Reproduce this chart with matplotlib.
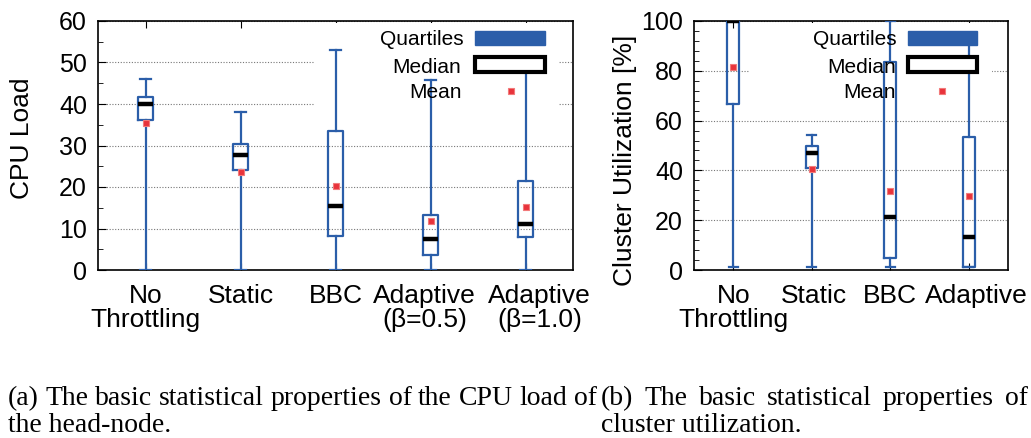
import matplotlib
matplotlib.use('Agg')
import matplotlib.pyplot as plt
import matplotlib.transforms as mtransforms
from matplotlib.patches import Rectangle
from matplotlib.ticker import MultipleLocator

plt.rcParams['font.family'] = ['Liberation Sans', 'DejaVu Sans']

# CPU load of the head-node
cpu_labels = ['No\nThrottling', 'Static', 'BBC', 'Adaptive\n(β=0.5)', 'Adaptive\n(β=1.0)']
cpu_min = [0, 0, 0, 0, 0]
cpu_q1 = [36.1, 24.1, 8.2, 3.6, 8.0]
cpu_med = [40.0, 27.6, 15.4, 7.5, 11.1]
cpu_q3 = [41.7, 30.4, 33.4, 13.3, 21.5]
cpu_max = [46.1, 38.0, 53.0, 45.8, 50.0]
cpu_mean = [35.4, 23.6, 20.3, 11.8, 15.3]

# cluster utilization [%]
util_labels = ['No\nThrottling', 'Static', 'BBC', 'Adaptive']
util_min = [1.3, 1.2, 1.3, 1.3]
util_q1 = [66.7, 41.1, 4.7, 1.3]
util_med = [100, 47.0, 21.4, 13.1]
util_q3 = [100, 49.9, 83.5, 53.4]
util_max = [100, 54.2, 100, 95]
util_mean = [81.4, 40.6, 31.9, 29.9]

BLUE = '#2b5ea9'
RED = '#e8333b'
W, H = 1031, 438

fig = plt.figure(figsize=(W / 100, H / 100), dpi=100)


def px_axes(x0, x1, ytop, ybot):
    return fig.add_axes([x0 / W, 1 - ybot / H, (x1 - x0) / W, (ybot - ytop) / H])


def draw_boxes(ax, labels, lo, q1, med, q3, hi, mean, shifts):
    stats = [dict(whislo=a, q1=b, med=c, q3=d, whishi=e, mean=f, label=l)
             for a, b, c, d, e, f, l in zip(lo, q1, med, q3, hi, mean, labels)]
    ax.bxp(stats, positions=range(1, len(stats) + 1), widths=0.15, capwidths=0.12,
           showmeans=True, showfliers=False, zorder=3,
           boxprops=dict(color=BLUE, lw=1.6),
           whiskerprops=dict(color=BLUE, lw=1.6),
           capprops=dict(color=BLUE, lw=1.6),
           medianprops=dict(color='black', lw=3.2, solid_capstyle='butt'),
           meanprops=dict(marker='s', markersize=5, markerfacecolor=RED,
                          markeredgecolor='#f27a7a', markeredgewidth=0.8))
    ax.set_xlim(0.5, len(stats) + 0.5)
    ax.set_axisbelow(True)
    ax.yaxis.grid(True, linestyle=(0, (1, 1.5)), color='#777777', lw=0.8)
    ax.tick_params(axis='x', top=True, direction='in', length=5, labelsize=19, pad=10)
    ax.tick_params(axis='y', which='major', direction='in', length=6, labelsize=18, pad=8)
    ax.tick_params(axis='y', which='minor', direction='in', length=3.5)
    # the long labels sit a little off their boxes
    for t, dx in zip(ax.get_xticklabels(), shifts):
        t.set_linespacing(1.0)
        t.set_transform(t.get_transform() +
                        mtransforms.ScaledTranslation(dx / 100, 0, fig.dpi_scale_trans))
    for s in ax.spines.values():
        s.set_linewidth(1.2)


def draw_key(ax, bg, text_x, sample_x, dot_x):
    # white key area hides the grid, the boxes stay on top
    ax.add_patch(Rectangle((bg[0], bg[2]), bg[1] - bg[0], bg[3] - bg[2],
                           transform=ax.transAxes, facecolor='white', edgecolor='none', zorder=1))
    kw = dict(transform=ax.transAxes, ha='right', va='center', fontsize=15, zorder=5)
    ax.text(text_x, 0.924, 'Quartiles', **kw)
    ax.text(text_x - 0.004, 0.815, 'Median', **kw)
    ax.text(text_x - 0.004, 0.711, 'Mean', **kw)
    ax.add_patch(Rectangle((sample_x[0], 0.904), sample_x[1] - sample_x[0], 0.056,
                           transform=ax.transAxes, facecolor=BLUE, edgecolor=BLUE, lw=1, zorder=5))
    ax.add_patch(Rectangle((sample_x[0], 0.795), sample_x[1] - sample_x[0], 0.060,
                           transform=ax.transAxes, facecolor='white', edgecolor='black', lw=3, zorder=5))
    ax.plot([dot_x], [0.719], 's', transform=ax.transAxes, markersize=5, markerfacecolor=RED,
            markeredgecolor='#f27a7a', markeredgewidth=0.8, zorder=5)


ax1 = px_axes(98, 573, 21, 270)
draw_boxes(ax1, cpu_labels, cpu_min, cpu_q1, cpu_med, cpu_q3, cpu_max, cpu_mean,
           [0, 0, 0, -6, 14])
ax1.set_ylim(0, 60)
ax1.yaxis.set_major_locator(MultipleLocator(10))
ax1.yaxis.set_minor_locator(MultipleLocator(5))
ax1.set_ylabel('CPU Load', fontsize=19, va='center')
ax1.yaxis.set_label_coords(-0.161, 0.53)
draw_key(ax1, (0.454, 0.97, 0.66, 0.99), 0.769, (0.794, 0.941), 0.869)

ax2 = px_axes(694, 1008, 21, 270)
draw_boxes(ax2, util_labels, util_min, util_q1, util_med, util_q3, util_max, util_mean,
           [0, 2, 0, 8])
ax2.set_ylim(0, 100)
ax2.yaxis.set_major_locator(MultipleLocator(20))
ax2.yaxis.set_minor_locator(MultipleLocator(4))
ax2.set_ylabel('Cluster Utilization [%]', fontsize=19, va='center')
ax2.yaxis.set_label_coords(-0.22, 0.44)
draw_key(ax2, (0.175, 0.949, 0.70, 0.99), 0.646, (0.682, 0.901), 0.790)

# sub-captions, first lines justified like the paper
renderer = fig.canvas.get_renderer()
cap_kw = dict(family=['Liberation Serif', 'DejaVu Serif'], fontsize=20, va='baseline')


def justified(line, x0, x1, base):
    words = line.split()
    texts = [fig.text(0, 1 - base / H, w, **cap_kw) for w in words]
    widths = [t.get_window_extent(renderer).width for t in texts]
    gap = (x1 - x0 - sum(widths)) / (len(words) - 1)
    x = x0
    for t, w in zip(texts, widths):
        t.set_x(x / W)
        x += w + gap


justified('(a) The basic statistical properties of the CPU load of', 8, 597, 405)
fig.text(8 / W, 1 - 432 / H, 'the head-node.', **cap_kw)
justified('(b) The basic statistical properties of', 601, 1028, 405)
fig.text(601 / W, 1 - 432 / H, 'cluster utilization.', **cap_kw)

fig.savefig('out.png', dpi=100)
